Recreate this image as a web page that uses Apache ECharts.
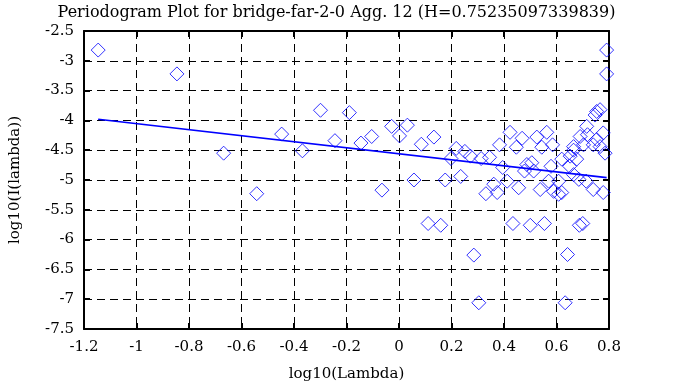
<!DOCTYPE html>
<html><head><meta charset="utf-8">
<script src="https://cdn.jsdelivr.net/npm/echarts@6/dist/echarts.min.js"></script>
<style>html,body{margin:0;padding:0;background:#fff}#c{width:673px;height:387px}</style>
</head><body><div id="c"></div>
<script>
const chartTitle = 'Periodogram Plot for bridge-far-2-0 Agg. 12 (H=0.75235097339839)';
const xName = 'log10(Lambda)';
const yName = 'log10(I(lambda))';
const lambdaX = [-1.146,-0.846,-0.668,-0.542,-0.447,-0.368,-0.299,-0.244,-0.189,-0.145,-0.104,-0.065,-0.028,0.032,0.002,0.057,0.085,0.111,0.133,0.159,0.176,0.198,0.218,0.235,0.251,0.272,0.285,0.304,0.313,0.331,0.345,0.361,0.374,0.383,0.395,0.412,0.423,0.434,0.447,0.456,0.469,0.478,0.487,0.500,0.506,0.513,0.525,0.538,0.544,0.554,0.563,0.570,0.579,0.585,0.589,0.608,0.620,0.620,0.633,0.642,0.652,0.650,0.665,0.665,0.677,0.685,0.687,0.690,0.700,0.703,0.713,0.715,0.718,0.740,0.740,0.747,0.753,0.753,0.766,0.766,0.778,0.778,0.785,0.791,0.791,0.665,0.608];
const logI = [-2.82,-3.22,-4.55,-5.23,-4.23,-4.51,-3.83,-4.34,-3.87,-4.38,-4.27,-5.17,-4.10,-4.08,-4.26,-5.00,-4.40,-5.73,-4.28,-5.76,-5.00,-4.64,-4.47,-4.94,-4.52,-4.60,-6.26,-7.06,-4.64,-5.23,-4.62,-5.07,-5.21,-4.41,-4.79,-5.02,-4.20,-5.73,-4.45,-5.13,-4.30,-4.85,-4.74,-5.76,-4.71,-4.85,-4.28,-5.16,-4.45,-5.73,-4.20,-5.02,-4.77,-4.41,-5.19,-5.02,-4.65,-5.21,-7.06,-6.25,-4.60,-4.77,-4.44,-4.91,-4.65,-4.99,-5.76,-4.27,-5.73,-4.41,-5.02,-4.10,-4.24,-4.41,-5.16,-3.91,-3.85,-4.32,-3.82,-4.44,-4.21,-5.21,-4.55,-2.82,-3.22,-4.50,-5.24];
const fitX = [-1.146, 0.791];
const fitY = [-3.98, -4.96];
const xTicks = {min:-1.2, max:0.8, interval:0.2};
const yTicks = {min:-7.5, max:-2.5, interval:0.5};

const font = 'DejaVu Serif';
const fs = 15;
const chart = echarts.init(document.getElementById('c'), null, {renderer:'canvas'});
const fmt = v => String(Number(v.toFixed(1)));
const axLine = {show:true, onZero:false, lineStyle:{color:'#000', width:2}};
const tick = {show:true, inside:true, length:6, lineStyle:{color:'#000', width:2}};
const split = {show:true, lineStyle:{color:'#000', width:1, type:[8,5]}};
const lbl = {color:'#000', fontFamily:font, fontSize:fs, formatter:fmt};
chart.setOption({
  animation:false,
  backgroundColor:'#fff',
  title:{text:chartTitle, left:'center', top:0, textStyle:{fontFamily:font, fontSize:16, fontWeight:'normal', color:'#000'}},
  grid:{left:82, right:64, top:31, bottom:57},
  xAxis:[
    {type:'value', min:xTicks.min, max:xTicks.max, interval:xTicks.interval, position:'bottom',
     name:xName, nameLocation:'middle', nameGap:38, nameTextStyle:{fontFamily:font, fontSize:fs, color:'#000'},
     axisLine:axLine, axisTick:tick, splitLine:split, axisLabel:Object.assign({margin:11}, lbl)},
    {type:'value', min:xTicks.min, max:xTicks.max, interval:xTicks.interval, position:'top',
     axisLine:axLine, axisTick:tick, splitLine:{show:false}, axisLabel:{show:false}}
  ],
  yAxis:[
    {type:'value', min:yTicks.min, max:yTicks.max, interval:yTicks.interval, position:'left',
     name:yName, nameLocation:'middle', nameGap:61, nameTextStyle:{fontFamily:font, fontSize:fs, color:'#000'},
     axisLine:axLine, axisTick:tick, splitLine:split, axisLabel:Object.assign({margin:10}, lbl)},
    {type:'value', min:yTicks.min, max:yTicks.max, interval:yTicks.interval, position:'right',
     axisLine:axLine, axisTick:tick, splitLine:{show:false}, axisLabel:{show:false}}
  ],
  series:[
    {type:'scatter', symbol:'diamond', symbolSize:14,
     itemStyle:{color:'rgba(0,0,0,0)', borderColor:'#0000ff', borderWidth:1},
     data: lambdaX.map((x,i)=>[x, logI[i]]), z:3},
    {type:'line', symbol:'none', lineStyle:{color:'#0000ff', width:1.6},
     data: fitX.map((x,i)=>[x, fitY[i]]), z:4}
  ]
});
</script></body></html>
